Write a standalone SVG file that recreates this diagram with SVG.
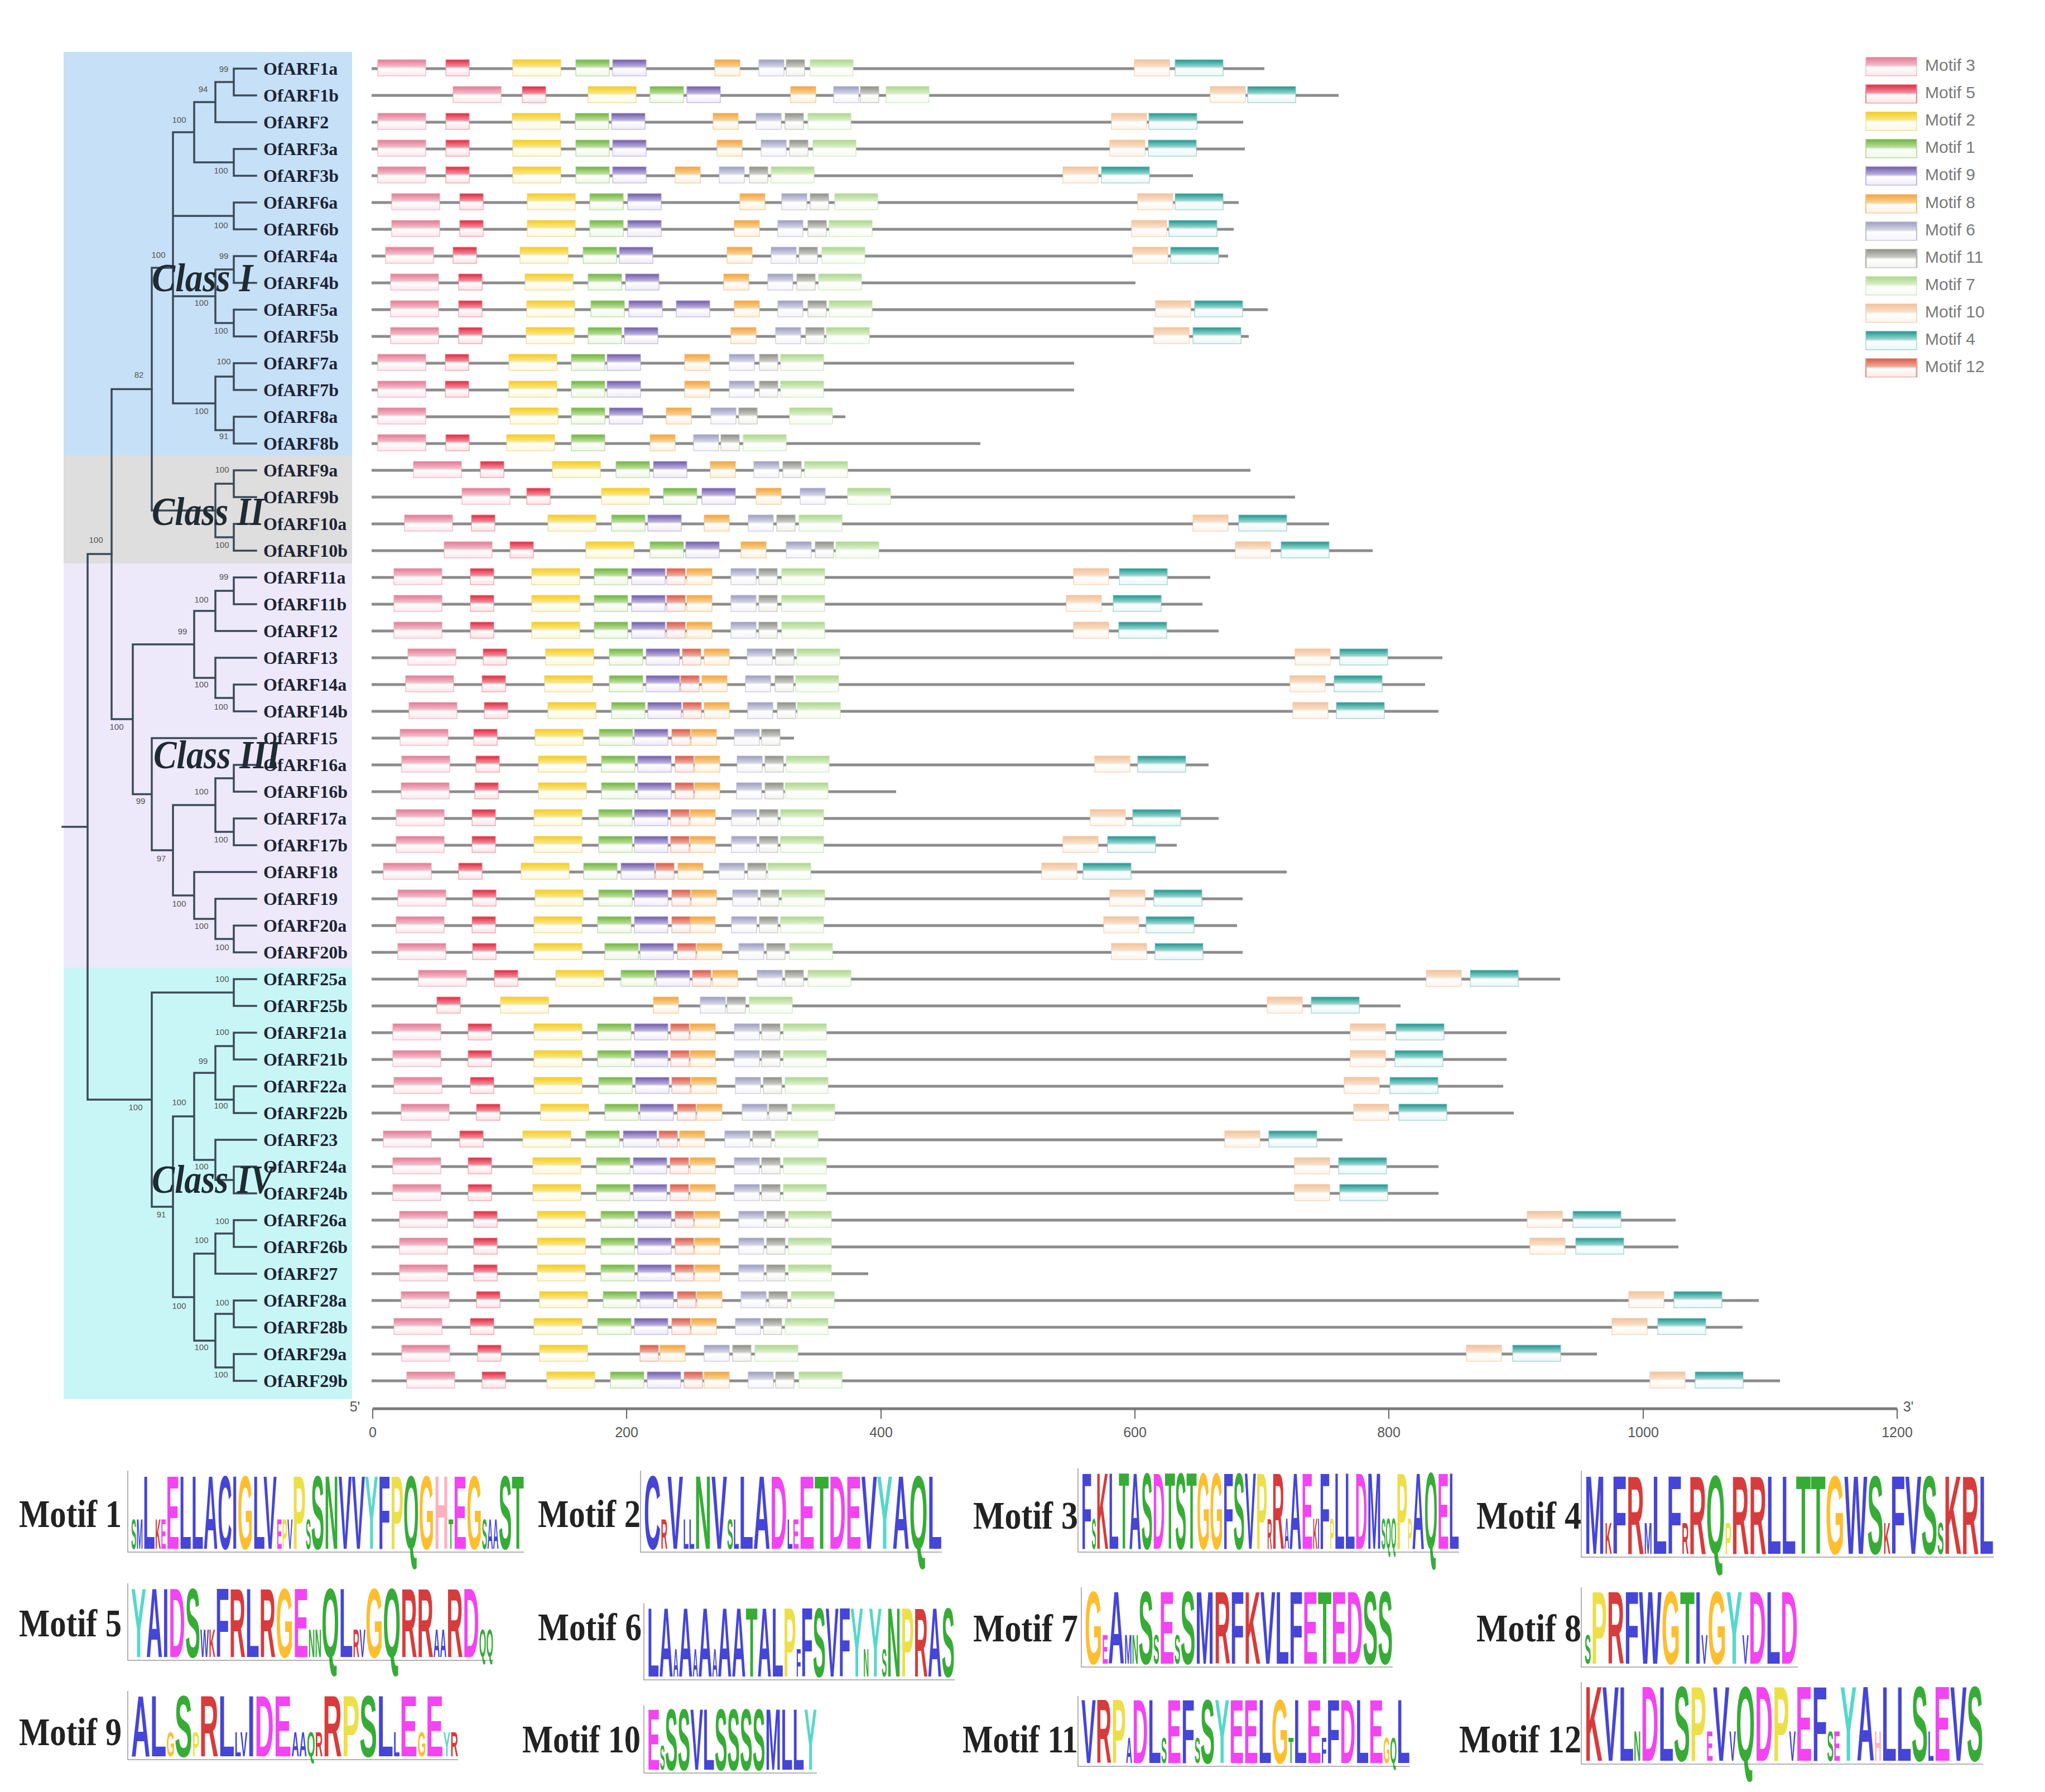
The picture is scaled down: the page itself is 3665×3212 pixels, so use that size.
<svg xmlns="http://www.w3.org/2000/svg" xmlns:xlink="http://www.w3.org/1999/xlink" width="3665" height="3212" viewBox="0 0 3665 3212">
<style>
.gl{stroke:#8c8c8c;stroke-width:5}
.tr{stroke:#3b4a58;stroke-width:3.5;fill:none;stroke-linecap:square}
.lf{font-family:"Liberation Serif",serif;font-weight:bold;font-size:32px;fill:#1e2433}
.bs{font-family:"Liberation Sans",sans-serif;font-size:15px;fill:#555;text-anchor:middle}
.cl{font-family:"Liberation Serif",serif;font-style:italic;font-weight:bold;font-size:72px;fill:#1f2a33}
.lg{font-family:"Liberation Sans",sans-serif;font-size:30px;fill:#7a7a7a}
.ax{font-family:"Liberation Sans",sans-serif;font-size:25px;fill:#555;text-anchor:middle}
.ml{font-family:"Liberation Serif",serif;font-weight:bold;font-size:70px;fill:#222}
.lo{font-family:"Liberation Sans",sans-serif;font-weight:bold;font-size:40px}
.lgo{opacity:0.82}
.la{stroke:#999;stroke-width:1.5;fill:none}
.b{fill:#1d1dd0}.g{fill:#0a9a0a}.m{fill:#f01cf0}.r{fill:#d01010}.o{fill:#ffb000}.y{fill:#e8d820}.t{fill:#30d0c0}.p{fill:#ff9fb0}
.S{font-size:16px}.L{font-size:40px}
</style>
<defs>
<linearGradient id="g3" x1="0" y1="0" x2="0" y2="1"><stop offset="0" stop-color="#e27a96"/><stop offset="0.42" stop-color="#f4b9c8"/><stop offset="0.55" stop-color="#ffffff"/><stop offset="1" stop-color="#fce6ec"/></linearGradient>
<linearGradient id="g5" x1="0" y1="0" x2="0" y2="1"><stop offset="0" stop-color="#e0283f"/><stop offset="0.42" stop-color="#f38a98"/><stop offset="0.55" stop-color="#ffffff"/><stop offset="1" stop-color="#fde0e4"/></linearGradient>
<linearGradient id="g2" x1="0" y1="0" x2="0" y2="1"><stop offset="0" stop-color="#f6cd16"/><stop offset="0.42" stop-color="#f9e58a"/><stop offset="0.55" stop-color="#ffffff"/><stop offset="1" stop-color="#fff8d8"/></linearGradient>
<linearGradient id="g1" x1="0" y1="0" x2="0" y2="1"><stop offset="0" stop-color="#6fb43e"/><stop offset="0.42" stop-color="#b9dd98"/><stop offset="0.55" stop-color="#ffffff"/><stop offset="1" stop-color="#eef8e4"/></linearGradient>
<linearGradient id="g9" x1="0" y1="0" x2="0" y2="1"><stop offset="0" stop-color="#6f5aa8"/><stop offset="0.42" stop-color="#b9addb"/><stop offset="0.55" stop-color="#ffffff"/><stop offset="1" stop-color="#efeaf8"/></linearGradient>
<linearGradient id="g8" x1="0" y1="0" x2="0" y2="1"><stop offset="0" stop-color="#f3a43a"/><stop offset="0.42" stop-color="#f9cf92"/><stop offset="0.55" stop-color="#ffffff"/><stop offset="1" stop-color="#fff0dc"/></linearGradient>
<linearGradient id="g6" x1="0" y1="0" x2="0" y2="1"><stop offset="0" stop-color="#9c9cc0"/><stop offset="0.42" stop-color="#d2d2e4"/><stop offset="0.55" stop-color="#ffffff"/><stop offset="1" stop-color="#f4f4fa"/></linearGradient>
<linearGradient id="g11" x1="0" y1="0" x2="0" y2="1"><stop offset="0" stop-color="#8e8e88"/><stop offset="0.42" stop-color="#c9c9c3"/><stop offset="0.55" stop-color="#ffffff"/><stop offset="1" stop-color="#f2f2ee"/></linearGradient>
<linearGradient id="g7" x1="0" y1="0" x2="0" y2="1"><stop offset="0" stop-color="#acd68c"/><stop offset="0.42" stop-color="#d9eec8"/><stop offset="0.55" stop-color="#ffffff"/><stop offset="1" stop-color="#f5fbf0"/></linearGradient>
<linearGradient id="g10" x1="0" y1="0" x2="0" y2="1"><stop offset="0" stop-color="#f3c29a"/><stop offset="0.42" stop-color="#f9dfc8"/><stop offset="0.55" stop-color="#ffffff"/><stop offset="1" stop-color="#fdf3ea"/></linearGradient>
<linearGradient id="g4" x1="0" y1="0" x2="0" y2="1"><stop offset="0" stop-color="#1f958e"/><stop offset="0.42" stop-color="#92d3ce"/><stop offset="0.55" stop-color="#ffffff"/><stop offset="1" stop-color="#e8f7f6"/></linearGradient>
<linearGradient id="g12" x1="0" y1="0" x2="0" y2="1"><stop offset="0" stop-color="#dc5a48"/><stop offset="0.42" stop-color="#eda79c"/><stop offset="0.55" stop-color="#ffffff"/><stop offset="1" stop-color="#fbe8e4"/></linearGradient>
<rect id="m3" y="-16" width="86" height="29" fill="url(#g3)" stroke="#e8a5b5" stroke-width="1"/>
<rect id="m5" y="-16" width="42" height="29" fill="url(#g5)" stroke="#e88a96" stroke-width="1"/>
<rect id="m2" y="-16" width="86" height="29" fill="url(#g2)" stroke="#e8d27a" stroke-width="1"/>
<rect id="m1" y="-16" width="60" height="29" fill="url(#g1)" stroke="#a8d08a" stroke-width="1"/>
<rect id="m9" y="-16" width="60" height="29" fill="url(#g9)" stroke="#b0a6d4" stroke-width="1"/>
<rect id="m8" y="-16" width="45" height="29" fill="url(#g8)" stroke="#eebf80" stroke-width="1"/>
<rect id="m6" y="-16" width="45" height="29" fill="url(#g6)" stroke="#bcbcd2" stroke-width="1"/>
<rect id="m11" y="-16" width="33" height="29" fill="url(#g11)" stroke="#b8b8b2" stroke-width="1"/>
<rect id="m7" y="-16" width="77" height="29" fill="url(#g7)" stroke="#c5e3ae" stroke-width="1"/>
<rect id="m10" y="-16" width="63" height="29" fill="url(#g10)" stroke="#eecaa8" stroke-width="1"/>
<rect id="m4" y="-16" width="86" height="29" fill="url(#g4)" stroke="#86c6c2" stroke-width="1"/>
<rect id="m12" y="-16" width="33" height="29" fill="url(#g12)" stroke="#e0a090" stroke-width="1"/>
</defs>
<rect width="3665" height="3212" fill="#ffffff"/>
<g id="class-backgrounds">
<rect x="114" y="93" width="517" height="723" fill="#c6e0f8"/>
<rect x="114" y="816" width="517" height="194" fill="#dedede"/>
<rect x="114" y="1010" width="517" height="724" fill="#ede9fb"/>
<rect x="114" y="1734" width="517" height="774" fill="#c8f6f6"/>
</g>
<g id="connectors">
<path class="tr" d="M419,123H459M419,171H459M419,123V171M386,147H419M386,219H459M386,147V219M419,267H459M419,315H459M419,267V315M348,183H386M348,291H419M348,183V291M419,363H459M419,411H459M419,363V411M419,459H459M419,507H459M419,459V507M419,555H459M419,603H459M419,555V603M386,483H419M386,579H419M386,483V579M419,651H459M419,699H459M419,651V699M419,747H459M419,795H459M419,747V795M386,675H419M386,771H419M386,675V771M310,237H348M310,387H419M310,531H386M310,723H386M310,237V723"/>
<path class="tr" d="M419,843H459M419,891H459M419,843V891M419,939H459M419,987H459M419,939V987M386,867H419M386,963H419M386,867V963M272,480H310M272,915H386M272,480V915"/>
<path class="tr" d="M419,1035H459M419,1083H459M419,1035V1083M386,1059H419M386,1131H459M386,1059V1131M419,1227H459M419,1275H459M419,1227V1275M386,1179H459M386,1251H419M386,1179V1251M348,1095H386M348,1215H386M348,1095V1215M419,1371H459M419,1419H459M419,1371V1419M419,1467H459M419,1515H459M419,1467V1515M386,1395H419M386,1491H419M386,1395V1491M419,1659H459M419,1707H459M419,1659V1707M386,1611H459M386,1683H419M386,1611V1683M348,1563H459M348,1647H386M348,1563V1647M310,1443H386M310,1605H348M310,1443V1605M272,1323H459M272,1524H310M272,1323V1524M238,1155H348M238,1423.5H272M238,1155V1423.5M200,697.5H272M200,1289H238M200,697.5V1289"/>
<path class="tr" d="M419,1755H459M419,1803H459M419,1755V1803M419,1851H459M419,1899H459M419,1851V1899M419,1947H459M419,1995H459M419,1947V1995M386,1875H419M386,1971H419M386,1875V1971M419,2091H459M419,2139H459M419,2091V2139M386,2043H459M386,2115H419M386,2043V2115M348,1923H386M348,2079H386M348,1923V2079M419,2187H459M419,2235H459M419,2187V2235M386,2211H419M386,2283H459M386,2211V2283M419,2331H459M419,2379H459M419,2331V2379M419,2427H459M419,2475H459M419,2427V2475M386,2355H419M386,2451H419M386,2355V2451M348,2247H386M348,2403H386M348,2247V2403M310,2001H348M310,2325H348M310,2001V2325M272,1779H419M272,2163H310M272,1779V2163M157,993H200M157,1971H272M157,993V1971M112,1482H157"/>
</g>
<g id="bootstrap">
<text class="bs" x="401" y="129">99</text>
<text class="bs" x="364" y="165">94</text>
<text class="bs" x="321" y="220">100</text>
<text class="bs" x="396" y="311">100</text>
<text class="bs" x="396" y="409">100</text>
<text class="bs" x="284" y="462">100</text>
<text class="bs" x="401" y="464">99</text>
<text class="bs" x="361" y="548">100</text>
<text class="bs" x="396" y="598">100</text>
<text class="bs" x="401" y="653">100</text>
<text class="bs" x="249" y="677">82</text>
<text class="bs" x="361" y="742">100</text>
<text class="bs" x="401" y="787">91</text>
<text class="bs" x="398" y="847">100</text>
<text class="bs" x="398" y="982">100</text>
<text class="bs" x="172" y="973">100</text>
<text class="bs" x="401" y="1039">99</text>
<text class="bs" x="361" y="1080">100</text>
<text class="bs" x="327" y="1137">99</text>
<text class="bs" x="361" y="1232">100</text>
<text class="bs" x="396" y="1272">100</text>
<text class="bs" x="209" y="1308">100</text>
<text class="bs" x="361" y="1424">100</text>
<text class="bs" x="252" y="1441">99</text>
<text class="bs" x="396" y="1510">100</text>
<text class="bs" x="289" y="1544">97</text>
<text class="bs" x="321" y="1625">100</text>
<text class="bs" x="361" y="1665">100</text>
<text class="bs" x="398" y="1703">100</text>
<text class="bs" x="398" y="1760">100</text>
<text class="bs" x="243" y="1990">100</text>
<text class="bs" x="398" y="1855">100</text>
<text class="bs" x="364" y="1907">99</text>
<text class="bs" x="321" y="1981">100</text>
<text class="bs" x="396" y="1987">100</text>
<text class="bs" x="361" y="2096">100</text>
<text class="bs" x="289" y="2182">91</text>
<text class="bs" x="398" y="2194">100</text>
<text class="bs" x="361" y="2228">100</text>
<text class="bs" x="321" y="2346">100</text>
<text class="bs" x="398" y="2340">100</text>
<text class="bs" x="361" y="2420">100</text>
<text class="bs" x="396" y="2469">100</text>
</g>
<g id="genes">
<g id="OfARF1a" transform="translate(0,123)"><text class="lf" x="472" y="11">OfARF1a</text><line class="gl" x1="666" x2="2266"/><use href="#m3" x="677"/><use href="#m5" x="799"/><use href="#m2" x="919"/><use href="#m1" x="1032"/><use href="#m9" x="1098"/><use href="#m8" x="1281"/><use href="#m6" x="1360"/><use href="#m11" x="1409"/><use href="#m7" x="1452"/><use href="#m10" x="2033"/><use href="#m4" x="2106"/></g>
<g id="OfARF1b" transform="translate(0,171)"><text class="lf" x="472" y="11">OfARF1b</text><line class="gl" x1="666" x2="2399"/><use href="#m3" x="812"/><use href="#m5" x="936"/><use href="#m2" x="1054"/><use href="#m1" x="1165"/><use href="#m9" x="1231"/><use href="#m8" x="1417"/><use href="#m6" x="1494"/><use href="#m11" x="1542"/><use href="#m7" x="1588"/><use href="#m10" x="2169"/><use href="#m4" x="2236"/></g>
<g id="OfARF2" transform="translate(0,219)"><text class="lf" x="472" y="11">OfARF2</text><line class="gl" x1="666" x2="2228"/><use href="#m3" x="677"/><use href="#m5" x="799"/><use href="#m2" x="918"/><use href="#m1" x="1031"/><use href="#m9" x="1096"/><use href="#m8" x="1278"/><use href="#m6" x="1355"/><use href="#m11" x="1407"/><use href="#m7" x="1448"/><use href="#m10" x="1992"/><use href="#m4" x="2059"/></g>
<g id="OfARF3a" transform="translate(0,267)"><text class="lf" x="472" y="11">OfARF3a</text><line class="gl" x1="666" x2="2231"/><use href="#m3" x="677"/><use href="#m5" x="799"/><use href="#m2" x="919"/><use href="#m1" x="1032"/><use href="#m9" x="1098"/><use href="#m8" x="1285"/><use href="#m6" x="1364"/><use href="#m11" x="1415"/><use href="#m7" x="1457"/><use href="#m10" x="1989"/><use href="#m4" x="2058"/></g>
<g id="OfARF3b" transform="translate(0,315)"><text class="lf" x="472" y="11">OfARF3b</text><line class="gl" x1="666" x2="2138"/><use href="#m3" x="677"/><use href="#m5" x="799"/><use href="#m2" x="919"/><use href="#m1" x="1032"/><use href="#m9" x="1098"/><use href="#m8" x="1210"/><use href="#m6" x="1289"/><use href="#m11" x="1343"/><use href="#m7" x="1382"/><use href="#m10" x="1905"/><use href="#m4" x="1974"/></g>
<g id="OfARF6a" transform="translate(0,363)"><text class="lf" x="472" y="11">OfARF6a</text><line class="gl" x1="666" x2="2220"/><use href="#m3" x="702"/><use href="#m5" x="824"/><use href="#m2" x="945"/><use href="#m1" x="1057"/><use href="#m9" x="1125"/><use href="#m8" x="1326"/><use href="#m6" x="1401"/><use href="#m11" x="1452"/><use href="#m7" x="1496"/><use href="#m10" x="2039"/><use href="#m4" x="2106"/></g>
<g id="OfARF6b" transform="translate(0,411)"><text class="lf" x="472" y="11">OfARF6b</text><line class="gl" x1="666" x2="2211"/><use href="#m3" x="702"/><use href="#m5" x="824"/><use href="#m2" x="945"/><use href="#m1" x="1057"/><use href="#m9" x="1125"/><use href="#m8" x="1316"/><use href="#m6" x="1394"/><use href="#m11" x="1448"/><use href="#m7" x="1486"/><use href="#m10" x="2028"/><use href="#m4" x="2095"/></g>
<g id="OfARF4a" transform="translate(0,459)"><text class="lf" x="472" y="11">OfARF4a</text><line class="gl" x1="666" x2="2201"/><use href="#m3" x="691"/><use href="#m5" x="812"/><use href="#m2" x="932"/><use href="#m1" x="1045"/><use href="#m9" x="1110"/><use href="#m8" x="1303"/><use href="#m6" x="1382"/><use href="#m11" x="1432"/><use href="#m7" x="1473"/><use href="#m10" x="2030"/><use href="#m4" x="2098"/></g>
<g id="OfARF4b" transform="translate(0,507)"><text class="lf" x="472" y="11">OfARF4b</text><line class="gl" x1="666" x2="2035"/><use href="#m3" x="700"/><use href="#m5" x="822"/><use href="#m2" x="941"/><use href="#m1" x="1054"/><use href="#m9" x="1121"/><use href="#m8" x="1297"/><use href="#m6" x="1376"/><use href="#m11" x="1428"/><use href="#m7" x="1467"/></g>
<g id="OfARF5a" transform="translate(0,555)"><text class="lf" x="472" y="11">OfARF5a</text><line class="gl" x1="666" x2="2272"/><use href="#m3" x="700"/><use href="#m5" x="822"/><use href="#m2" x="944"/><use href="#m1" x="1059"/><use href="#m9" x="1127"/><use href="#m9" x="1212"/><use href="#m8" x="1316"/><use href="#m6" x="1394"/><use href="#m11" x="1448"/><use href="#m7" x="1486"/><use href="#m10" x="2071"/><use href="#m4" x="2141"/></g>
<g id="OfARF5b" transform="translate(0,603)"><text class="lf" x="472" y="11">OfARF5b</text><line class="gl" x1="666" x2="2238"/><use href="#m3" x="700"/><use href="#m5" x="822"/><use href="#m2" x="943"/><use href="#m1" x="1054"/><use href="#m9" x="1119"/><use href="#m8" x="1310"/><use href="#m6" x="1390"/><use href="#m11" x="1444"/><use href="#m7" x="1481"/><use href="#m10" x="2068"/><use href="#m4" x="2138"/></g>
<g id="OfARF7a" transform="translate(0,651)"><text class="lf" x="472" y="11">OfARF7a</text><line class="gl" x1="666" x2="1925"/><use href="#m3" x="677"/><use href="#m5" x="798"/><use href="#m2" x="912"/><use href="#m1" x="1024"/><use href="#m9" x="1088"/><use href="#m8" x="1227"/><use href="#m6" x="1307"/><use href="#m11" x="1361"/><use href="#m7" x="1399"/></g>
<g id="OfARF7b" transform="translate(0,699)"><text class="lf" x="472" y="11">OfARF7b</text><line class="gl" x1="666" x2="1925"/><use href="#m3" x="677"/><use href="#m5" x="798"/><use href="#m2" x="912"/><use href="#m1" x="1024"/><use href="#m9" x="1088"/><use href="#m8" x="1227"/><use href="#m6" x="1307"/><use href="#m11" x="1361"/><use href="#m7" x="1399"/></g>
<g id="OfARF8a" transform="translate(0,747)"><text class="lf" x="472" y="11">OfARF8a</text><line class="gl" x1="666" x2="1515"/><use href="#m3" x="677"/><use href="#m2" x="914"/><use href="#m1" x="1024"/><use href="#m9" x="1092"/><use href="#m8" x="1194"/><use href="#m6" x="1274"/><use href="#m11" x="1324"/><use href="#m7" x="1415"/></g>
<g id="OfARF8b" transform="translate(0,795)"><text class="lf" x="472" y="11">OfARF8b</text><line class="gl" x1="666" x2="1757"/><use href="#m3" x="677"/><use href="#m5" x="799"/><use href="#m2" x="908"/><use href="#m1" x="1024"/><use href="#m8" x="1165"/><use href="#m6" x="1243"/><use href="#m11" x="1292"/><use href="#m7" x="1332"/></g>
<g id="OfARF9a" transform="translate(0,843)"><text class="lf" x="472" y="11">OfARF9a</text><line class="gl" x1="666" x2="2241"/><use href="#m3" x="741"/><use href="#m5" x="861"/><use href="#m2" x="990"/><use href="#m1" x="1104"/><use href="#m9" x="1171"/><use href="#m8" x="1273"/><use href="#m6" x="1351"/><use href="#m11" x="1403"/><use href="#m7" x="1442"/></g>
<g id="OfARF9b" transform="translate(0,891)"><text class="lf" x="472" y="11">OfARF9b</text><line class="gl" x1="666" x2="2321"/><use href="#m3" x="828"/><use href="#m5" x="944"/><use href="#m2" x="1078"/><use href="#m1" x="1189"/><use href="#m9" x="1258"/><use href="#m8" x="1355"/><use href="#m6" x="1434"/><use href="#m7" x="1519"/></g>
<g id="OfARF10a" transform="translate(0,939)"><text class="lf" x="472" y="11">OfARF10a</text><line class="gl" x1="666" x2="2382"/><use href="#m3" x="725"/><use href="#m5" x="845"/><use href="#m2" x="982"/><use href="#m1" x="1096"/><use href="#m9" x="1161"/><use href="#m8" x="1262"/><use href="#m6" x="1341"/><use href="#m11" x="1392"/><use href="#m7" x="1432"/><use href="#m10" x="2138"/><use href="#m4" x="2220"/></g>
<g id="OfARF10b" transform="translate(0,987)"><text class="lf" x="472" y="11">OfARF10b</text><line class="gl" x1="666" x2="2460"/><use href="#m3" x="796"/><use href="#m5" x="914"/><use href="#m2" x="1050"/><use href="#m1" x="1165"/><use href="#m9" x="1229"/><use href="#m8" x="1328"/><use href="#m6" x="1409"/><use href="#m11" x="1461"/><use href="#m7" x="1498"/><use href="#m10" x="2214"/><use href="#m4" x="2296"/></g>
<g id="OfARF11a" transform="translate(0,1035)"><text class="lf" x="472" y="11">OfARF11a</text><line class="gl" x1="666" x2="2169"/><use href="#m3" x="706"/><use href="#m5" x="843"/><use href="#m2" x="953"/><use href="#m1" x="1065"/><use href="#m9" x="1132"/><use href="#m12" x="1195"/><use href="#m8" x="1231"/><use href="#m6" x="1310"/><use href="#m11" x="1360"/><use href="#m7" x="1401"/><use href="#m10" x="1924"/><use href="#m4" x="2006"/></g>
<g id="OfARF11b" transform="translate(0,1083)"><text class="lf" x="472" y="11">OfARF11b</text><line class="gl" x1="666" x2="2155"/><use href="#m3" x="706"/><use href="#m5" x="843"/><use href="#m2" x="953"/><use href="#m1" x="1065"/><use href="#m9" x="1132"/><use href="#m12" x="1195"/><use href="#m8" x="1231"/><use href="#m6" x="1310"/><use href="#m11" x="1360"/><use href="#m7" x="1401"/><use href="#m10" x="1911"/><use href="#m4" x="1995"/></g>
<g id="OfARF12" transform="translate(0,1131)"><text class="lf" x="472" y="11">OfARF12</text><line class="gl" x1="666" x2="2184"/><use href="#m3" x="706"/><use href="#m5" x="843"/><use href="#m2" x="953"/><use href="#m1" x="1065"/><use href="#m9" x="1132"/><use href="#m12" x="1195"/><use href="#m8" x="1231"/><use href="#m6" x="1310"/><use href="#m11" x="1360"/><use href="#m7" x="1401"/><use href="#m10" x="1924"/><use href="#m4" x="2005"/></g>
<g id="OfARF13" transform="translate(0,1179)"><text class="lf" x="472" y="11">OfARF13</text><line class="gl" x1="666" x2="2585"/><use href="#m3" x="731"/><use href="#m5" x="866"/><use href="#m2" x="978"/><use href="#m1" x="1092"/><use href="#m9" x="1158"/><use href="#m12" x="1223"/><use href="#m8" x="1262"/><use href="#m6" x="1339"/><use href="#m11" x="1390"/><use href="#m7" x="1428"/><use href="#m10" x="2321"/><use href="#m4" x="2401"/></g>
<g id="OfARF14a" transform="translate(0,1227)"><text class="lf" x="472" y="11">OfARF14a</text><line class="gl" x1="666" x2="2554"/><use href="#m3" x="727"/><use href="#m5" x="864"/><use href="#m2" x="976"/><use href="#m1" x="1092"/><use href="#m9" x="1158"/><use href="#m12" x="1220"/><use href="#m8" x="1258"/><use href="#m6" x="1336"/><use href="#m11" x="1389"/><use href="#m7" x="1426"/><use href="#m10" x="2312"/><use href="#m4" x="2391"/></g>
<g id="OfARF14b" transform="translate(0,1275)"><text class="lf" x="472" y="11">OfARF14b</text><line class="gl" x1="666" x2="2578"/><use href="#m3" x="733"/><use href="#m5" x="868"/><use href="#m2" x="982"/><use href="#m1" x="1096"/><use href="#m9" x="1161"/><use href="#m12" x="1224"/><use href="#m8" x="1262"/><use href="#m6" x="1340"/><use href="#m11" x="1393"/><use href="#m7" x="1429"/><use href="#m10" x="2317"/><use href="#m4" x="2395"/></g>
<g id="OfARF15" transform="translate(0,1323)"><text class="lf" x="472" y="11">OfARF15</text><line class="gl" x1="666" x2="1423"/><use href="#m3" x="717"/><use href="#m5" x="849"/><use href="#m2" x="959"/><use href="#m1" x="1074"/><use href="#m9" x="1137"/><use href="#m12" x="1204"/><use href="#m8" x="1239"/><use href="#m6" x="1316"/><use href="#m11" x="1365"/></g>
<g id="OfARF16a" transform="translate(0,1371)"><text class="lf" x="472" y="11">OfARF16a</text><line class="gl" x1="666" x2="2166"/><use href="#m3" x="720"/><use href="#m5" x="853"/><use href="#m2" x="965"/><use href="#m1" x="1078"/><use href="#m9" x="1143"/><use href="#m12" x="1210"/><use href="#m8" x="1245"/><use href="#m6" x="1321"/><use href="#m11" x="1371"/><use href="#m7" x="1409"/><use href="#m10" x="1962"/><use href="#m4" x="2039"/></g>
<g id="OfARF16b" transform="translate(0,1419)"><text class="lf" x="472" y="11">OfARF16b</text><line class="gl" x1="666" x2="1606"/><use href="#m3" x="719"/><use href="#m5" x="851"/><use href="#m2" x="965"/><use href="#m1" x="1078"/><use href="#m9" x="1143"/><use href="#m12" x="1210"/><use href="#m8" x="1245"/><use href="#m6" x="1320"/><use href="#m11" x="1371"/><use href="#m7" x="1407"/></g>
<g id="OfARF17a" transform="translate(0,1467)"><text class="lf" x="472" y="11">OfARF17a</text><line class="gl" x1="666" x2="2184"/><use href="#m3" x="710"/><use href="#m5" x="846"/><use href="#m2" x="957"/><use href="#m1" x="1073"/><use href="#m9" x="1137"/><use href="#m12" x="1202"/><use href="#m8" x="1237"/><use href="#m6" x="1311"/><use href="#m11" x="1361"/><use href="#m7" x="1399"/><use href="#m10" x="1954"/><use href="#m4" x="2030"/></g>
<g id="OfARF17b" transform="translate(0,1515)"><text class="lf" x="472" y="11">OfARF17b</text><line class="gl" x1="666" x2="2109"/><use href="#m3" x="710"/><use href="#m5" x="846"/><use href="#m2" x="957"/><use href="#m1" x="1073"/><use href="#m9" x="1137"/><use href="#m12" x="1202"/><use href="#m8" x="1237"/><use href="#m6" x="1311"/><use href="#m11" x="1361"/><use href="#m7" x="1399"/><use href="#m10" x="1905"/><use href="#m4" x="1985"/></g>
<g id="OfARF18" transform="translate(0,1563)"><text class="lf" x="472" y="11">OfARF18</text><line class="gl" x1="666" x2="2306"/><use href="#m3" x="687"/><use href="#m5" x="822"/><use href="#m2" x="934"/><use href="#m1" x="1046"/><use href="#m9" x="1113"/><use href="#m12" x="1175"/><use href="#m8" x="1215"/><use href="#m6" x="1289"/><use href="#m11" x="1340"/><use href="#m7" x="1376"/><use href="#m10" x="1867"/><use href="#m4" x="1941"/></g>
<g id="OfARF19" transform="translate(0,1611)"><text class="lf" x="472" y="11">OfARF19</text><line class="gl" x1="666" x2="2227"/><use href="#m3" x="713"/><use href="#m5" x="847"/><use href="#m2" x="959"/><use href="#m1" x="1073"/><use href="#m9" x="1137"/><use href="#m12" x="1204"/><use href="#m8" x="1239"/><use href="#m6" x="1313"/><use href="#m11" x="1363"/><use href="#m7" x="1401"/><use href="#m10" x="1989"/><use href="#m4" x="2068"/></g>
<g id="OfARF20a" transform="translate(0,1659)"><text class="lf" x="472" y="11">OfARF20a</text><line class="gl" x1="666" x2="2217"/><use href="#m3" x="710"/><use href="#m5" x="846"/><use href="#m2" x="957"/><use href="#m1" x="1071"/><use href="#m9" x="1137"/><use href="#m12" x="1204"/><use href="#m8" x="1237"/><use href="#m6" x="1311"/><use href="#m11" x="1361"/><use href="#m7" x="1399"/><use href="#m10" x="1978"/><use href="#m4" x="2054"/></g>
<g id="OfARF20b" transform="translate(0,1707)"><text class="lf" x="472" y="11">OfARF20b</text><line class="gl" x1="666" x2="2227"/><use href="#m3" x="713"/><use href="#m5" x="847"/><use href="#m2" x="957"/><use href="#m1" x="1084"/><use href="#m9" x="1147"/><use href="#m12" x="1214"/><use href="#m8" x="1249"/><use href="#m6" x="1324"/><use href="#m11" x="1374"/><use href="#m7" x="1415"/><use href="#m10" x="1992"/><use href="#m4" x="2070"/></g>
<g id="OfARF25a" transform="translate(0,1755)"><text class="lf" x="472" y="11">OfARF25a</text><line class="gl" x1="666" x2="2796"/><use href="#m3" x="750"/><use href="#m5" x="886"/><use href="#m2" x="996"/><use href="#m1" x="1113"/><use href="#m9" x="1176"/><use href="#m12" x="1241"/><use href="#m8" x="1277"/><use href="#m6" x="1357"/><use href="#m11" x="1407"/><use href="#m7" x="1448"/><use href="#m10" x="2556"/><use href="#m4" x="2635"/></g>
<g id="OfARF25b" transform="translate(0,1803)"><text class="lf" x="472" y="11">OfARF25b</text><line class="gl" x1="666" x2="2510"/><use href="#m5" x="783"/><use href="#m2" x="897"/><use href="#m8" x="1171"/><use href="#m6" x="1255"/><use href="#m11" x="1303"/><use href="#m7" x="1343"/><use href="#m10" x="2271"/><use href="#m4" x="2350"/></g>
<g id="OfARF21a" transform="translate(0,1851)"><text class="lf" x="472" y="11">OfARF21a</text><line class="gl" x1="666" x2="2700"/><use href="#m3" x="704"/><use href="#m5" x="839"/><use href="#m2" x="957"/><use href="#m1" x="1071"/><use href="#m9" x="1137"/><use href="#m12" x="1202"/><use href="#m8" x="1237"/><use href="#m6" x="1316"/><use href="#m11" x="1365"/><use href="#m7" x="1404"/><use href="#m10" x="2420"/><use href="#m4" x="2502"/></g>
<g id="OfARF21b" transform="translate(0,1899)"><text class="lf" x="472" y="11">OfARF21b</text><line class="gl" x1="666" x2="2700"/><use href="#m3" x="704"/><use href="#m5" x="839"/><use href="#m2" x="957"/><use href="#m1" x="1071"/><use href="#m9" x="1137"/><use href="#m12" x="1202"/><use href="#m8" x="1237"/><use href="#m6" x="1316"/><use href="#m11" x="1365"/><use href="#m7" x="1404"/><use href="#m10" x="2420"/><use href="#m4" x="2500"/></g>
<g id="OfARF22a" transform="translate(0,1947)"><text class="lf" x="472" y="11">OfARF22a</text><line class="gl" x1="666" x2="2694"/><use href="#m3" x="706"/><use href="#m5" x="843"/><use href="#m2" x="957"/><use href="#m1" x="1073"/><use href="#m9" x="1139"/><use href="#m12" x="1204"/><use href="#m8" x="1239"/><use href="#m6" x="1318"/><use href="#m11" x="1368"/><use href="#m7" x="1407"/><use href="#m10" x="2409"/><use href="#m4" x="2491"/></g>
<g id="OfARF22b" transform="translate(0,1995)"><text class="lf" x="472" y="11">OfARF22b</text><line class="gl" x1="666" x2="2713"/><use href="#m3" x="719"/><use href="#m5" x="854"/><use href="#m2" x="969"/><use href="#m1" x="1084"/><use href="#m9" x="1147"/><use href="#m12" x="1214"/><use href="#m8" x="1249"/><use href="#m6" x="1330"/><use href="#m11" x="1378"/><use href="#m7" x="1419"/><use href="#m10" x="2426"/><use href="#m4" x="2507"/></g>
<g id="OfARF23" transform="translate(0,2043)"><text class="lf" x="472" y="11">OfARF23</text><line class="gl" x1="666" x2="2406"/><use href="#m3" x="687"/><use href="#m5" x="824"/><use href="#m2" x="937"/><use href="#m1" x="1050"/><use href="#m9" x="1117"/><use href="#m12" x="1181"/><use href="#m8" x="1218"/><use href="#m6" x="1299"/><use href="#m11" x="1349"/><use href="#m7" x="1389"/><use href="#m10" x="2195"/><use href="#m4" x="2274"/></g>
<g id="OfARF24a" transform="translate(0,2091)"><text class="lf" x="472" y="11">OfARF24a</text><line class="gl" x1="666" x2="2578"/><use href="#m3" x="704"/><use href="#m5" x="839"/><use href="#m2" x="955"/><use href="#m1" x="1069"/><use href="#m9" x="1135"/><use href="#m12" x="1201"/><use href="#m8" x="1237"/><use href="#m6" x="1316"/><use href="#m11" x="1365"/><use href="#m7" x="1404"/><use href="#m10" x="2320"/><use href="#m4" x="2399"/></g>
<g id="OfARF24b" transform="translate(0,2139)"><text class="lf" x="472" y="11">OfARF24b</text><line class="gl" x1="666" x2="2578"/><use href="#m3" x="704"/><use href="#m5" x="839"/><use href="#m2" x="955"/><use href="#m1" x="1069"/><use href="#m9" x="1135"/><use href="#m12" x="1201"/><use href="#m8" x="1237"/><use href="#m6" x="1316"/><use href="#m11" x="1365"/><use href="#m7" x="1404"/><use href="#m10" x="2320"/><use href="#m4" x="2401"/></g>
<g id="OfARF26a" transform="translate(0,2187)"><text class="lf" x="472" y="11">OfARF26a</text><line class="gl" x1="666" x2="3003"/><use href="#m3" x="716"/><use href="#m5" x="849"/><use href="#m2" x="963"/><use href="#m1" x="1077"/><use href="#m9" x="1143"/><use href="#m12" x="1210"/><use href="#m8" x="1245"/><use href="#m6" x="1324"/><use href="#m11" x="1374"/><use href="#m7" x="1413"/><use href="#m10" x="2737"/><use href="#m4" x="2819"/></g>
<g id="OfARF26b" transform="translate(0,2235)"><text class="lf" x="472" y="11">OfARF26b</text><line class="gl" x1="666" x2="3008"/><use href="#m3" x="716"/><use href="#m5" x="849"/><use href="#m2" x="963"/><use href="#m1" x="1077"/><use href="#m9" x="1143"/><use href="#m12" x="1210"/><use href="#m8" x="1245"/><use href="#m6" x="1324"/><use href="#m11" x="1374"/><use href="#m7" x="1413"/><use href="#m10" x="2742"/><use href="#m4" x="2824"/></g>
<g id="OfARF27" transform="translate(0,2283)"><text class="lf" x="472" y="11">OfARF27</text><line class="gl" x1="666" x2="1556"/><use href="#m3" x="716"/><use href="#m5" x="849"/><use href="#m2" x="963"/><use href="#m1" x="1077"/><use href="#m9" x="1143"/><use href="#m12" x="1210"/><use href="#m8" x="1245"/><use href="#m6" x="1324"/><use href="#m11" x="1374"/><use href="#m7" x="1413"/></g>
<g id="OfARF28a" transform="translate(0,2331)"><text class="lf" x="472" y="11">OfARF28a</text><line class="gl" x1="666" x2="3152"/><use href="#m3" x="719"/><use href="#m5" x="854"/><use href="#m2" x="967"/><use href="#m1" x="1081"/><use href="#m9" x="1147"/><use href="#m12" x="1214"/><use href="#m8" x="1249"/><use href="#m6" x="1328"/><use href="#m11" x="1378"/><use href="#m7" x="1418"/><use href="#m10" x="2919"/><use href="#m4" x="3000"/></g>
<g id="OfARF28b" transform="translate(0,2379)"><text class="lf" x="472" y="11">OfARF28b</text><line class="gl" x1="666" x2="3123"/><use href="#m3" x="706"/><use href="#m5" x="843"/><use href="#m2" x="957"/><use href="#m1" x="1071"/><use href="#m9" x="1137"/><use href="#m12" x="1204"/><use href="#m8" x="1239"/><use href="#m6" x="1318"/><use href="#m11" x="1368"/><use href="#m7" x="1407"/><use href="#m10" x="2889"/><use href="#m4" x="2971"/></g>
<g id="OfARF29a" transform="translate(0,2427)"><text class="lf" x="472" y="11">OfARF29a</text><line class="gl" x1="666" x2="2862"/><use href="#m3" x="720"/><use href="#m5" x="856"/><use href="#m2" x="967"/><use href="#m12" x="1147"/><use href="#m8" x="1183"/><use href="#m6" x="1262"/><use href="#m11" x="1313"/><use href="#m7" x="1353"/><use href="#m10" x="2628"/><use href="#m4" x="2711"/></g>
<g id="OfARF29b" transform="translate(0,2475)"><text class="lf" x="472" y="11">OfARF29b</text><line class="gl" x1="666" x2="3190"/><use href="#m3" x="729"/><use href="#m5" x="864"/><use href="#m2" x="980"/><use href="#m1" x="1094"/><use href="#m9" x="1160"/><use href="#m12" x="1226"/><use href="#m8" x="1262"/><use href="#m6" x="1341"/><use href="#m11" x="1390"/><use href="#m7" x="1432"/><use href="#m10" x="2957"/><use href="#m4" x="3038"/></g>
</g>
<g id="class-labels">
<text class="cl" x="272" y="522" textLength="181" lengthAdjust="spacingAndGlyphs">Class I</text>
<text class="cl" x="272" y="941" textLength="201" lengthAdjust="spacingAndGlyphs">Class II</text>
<text class="cl" x="275" y="1377" textLength="227" lengthAdjust="spacingAndGlyphs">Class III</text>
<text class="cl" x="272" y="2138" textLength="218" lengthAdjust="spacingAndGlyphs">Class IV</text>
</g>
<g id="legend">
<use href="#m3" transform="translate(3344,121) scale(1.058,1.14)"/><text class="lg" x="3450" y="127">Motif 3</text>
<use href="#m5" transform="translate(3344,170) scale(2.167,1.14)"/><text class="lg" x="3450" y="176">Motif 5</text>
<use href="#m2" transform="translate(3344,219) scale(1.058,1.14)"/><text class="lg" x="3450" y="225">Motif 2</text>
<use href="#m1" transform="translate(3344,268) scale(1.517,1.14)"/><text class="lg" x="3450" y="274">Motif 1</text>
<use href="#m9" transform="translate(3344,317) scale(1.517,1.14)"/><text class="lg" x="3450" y="323">Motif 9</text>
<use href="#m8" transform="translate(3344,367) scale(2.022,1.14)"/><text class="lg" x="3450" y="373">Motif 8</text>
<use href="#m6" transform="translate(3344,416) scale(2.022,1.14)"/><text class="lg" x="3450" y="422">Motif 6</text>
<use href="#m11" transform="translate(3344,465) scale(2.758,1.14)"/><text class="lg" x="3450" y="471">Motif 11</text>
<use href="#m7" transform="translate(3344,514) scale(1.182,1.14)"/><text class="lg" x="3450" y="520">Motif 7</text>
<use href="#m10" transform="translate(3344,563) scale(1.444,1.14)"/><text class="lg" x="3450" y="569">Motif 10</text>
<use href="#m4" transform="translate(3344,612) scale(1.058,1.14)"/><text class="lg" x="3450" y="618">Motif 4</text>
<use href="#m12" transform="translate(3344,661) scale(2.758,1.14)"/><text class="lg" x="3450" y="667">Motif 12</text>
</g>
<g id="axis">
<line x1="668" y1="2525" x2="3400" y2="2525" stroke="#7a7a7a" stroke-width="5"/>
<path d="M668,2525V2543M1123,2525V2543M1579,2525V2543M2034,2525V2543M2489,2525V2543M2945,2525V2543M3400,2525V2543" stroke="#666" stroke-width="2"/>
<text class="ax" x="668" y="2576">0</text>
<text class="ax" x="1123" y="2576">200</text>
<text class="ax" x="1579" y="2576">400</text>
<text class="ax" x="2034" y="2576">600</text>
<text class="ax" x="2489" y="2576">800</text>
<text class="ax" x="2945" y="2576">1000</text>
<text class="ax" x="3400" y="2576">1200</text>
<text class="ax" x="636" y="2530">5'</text>
<text class="ax" x="3420" y="2530">3'</text>
</g>
<g id="motif-logos">
<text class="ml" x="34" y="2737" textLength="184" lengthAdjust="spacingAndGlyphs">Motif 1</text>
<text class="ml" x="964" y="2737" textLength="184" lengthAdjust="spacingAndGlyphs">Motif 2</text>
<text class="ml" x="1744" y="2740" textLength="188" lengthAdjust="spacingAndGlyphs">Motif 3</text>
<text class="ml" x="2646" y="2740" textLength="188" lengthAdjust="spacingAndGlyphs">Motif 4</text>
<text class="ml" x="34" y="2933" textLength="184" lengthAdjust="spacingAndGlyphs">Motif 5</text>
<text class="ml" x="964" y="2940" textLength="186" lengthAdjust="spacingAndGlyphs">Motif 6</text>
<text class="ml" x="1744" y="2942" textLength="188" lengthAdjust="spacingAndGlyphs">Motif 7</text>
<text class="ml" x="2646" y="2942" textLength="188" lengthAdjust="spacingAndGlyphs">Motif 8</text>
<text class="ml" x="34" y="3128" textLength="184" lengthAdjust="spacingAndGlyphs">Motif 9</text>
<text class="ml" x="936" y="3141" textLength="212" lengthAdjust="spacingAndGlyphs">Motif 10</text>
<text class="ml" x="1725" y="3141" textLength="207" lengthAdjust="spacingAndGlyphs">Motif 11</text>
<text class="ml" x="2615" y="3141" textLength="219" lengthAdjust="spacingAndGlyphs">Motif 12</text>
<path class="la" d="M229,2636V2782H939M1148,2636V2782H1688M1932,2632V2782H2615M2834,2636V2791H3573M229,2838V2976H884M1154,2874V3011H1711M1938,2845V2988H2496M2834,2845V2988H3222M229,3031V3154H821M1154,3057V3178H1464M1932,3040V3166H2527M2834,3015V3162H3554"/>
<g class="lgo">
<g transform="translate(235,2776) scale(1,4.7)"><text class="lo" textLength="704" lengthAdjust="spacingAndGlyphs"><tspan class="g S">S</tspan><tspan class="b S">M</tspan><tspan class="b L">L</tspan><tspan class="r S">K</tspan><tspan class="m S">E</tspan><tspan class="m L">E</tspan><tspan class="b L">LLACI</tspan><tspan class="o L">G</tspan><tspan class="b L">LV</tspan><tspan class="m S">E</tspan><tspan class="y S">P</tspan><tspan class="b S">V</tspan><tspan class="y L">P</tspan><tspan class="g S">S</tspan><tspan class="g L">SN</tspan><tspan class="b L">VV</tspan><tspan class="t L">Y</tspan><tspan class="b L">F</tspan><tspan class="y L">P</tspan><tspan class="g L">Q</tspan><tspan class="o L">G</tspan><tspan class="p L">H</tspan><tspan class="g S">T</tspan><tspan class="m L">E</tspan><tspan class="o L">G</tspan><tspan class="g S">S</tspan><tspan class="b S">AA</tspan><tspan class="g L">ST</tspan></text></g>
<g transform="translate(1154,2776) scale(1,4.7)"><text class="lo" textLength="534" lengthAdjust="spacingAndGlyphs"><tspan class="b L">C</tspan><tspan class="r S">R</tspan><tspan class="b L">V</tspan><tspan class="b S">LL</tspan><tspan class="g L">N</tspan><tspan class="b L">V</tspan><tspan class="g S">S</tspan><tspan class="b S">L</tspan><tspan class="b L">LA</tspan><tspan class="m L">D</tspan><tspan class="b S">L</tspan><tspan class="m S">E</tspan><tspan class="m L">E</tspan><tspan class="g L">T</tspan><tspan class="m L">DE</tspan><tspan class="b L">V</tspan><tspan class="t L">Y</tspan><tspan class="b L">A</tspan><tspan class="g L">Q</tspan><tspan class="b L">L</tspan></text></g>
<g transform="translate(1938,2776) scale(1,4.86)"><text class="lo" textLength="677" lengthAdjust="spacingAndGlyphs"><tspan class="b L">F</tspan><tspan class="g S">S</tspan><tspan class="r L">K</tspan><tspan class="b L">L</tspan><tspan class="g L">T</tspan><tspan class="b L">A</tspan><tspan class="g L">S</tspan><tspan class="m L">D</tspan><tspan class="g L">TST</tspan><tspan class="o L">GG</tspan><tspan class="b L">F</tspan><tspan class="g L">S</tspan><tspan class="b L">V</tspan><tspan class="y L">P</tspan><tspan class="r S">R</tspan><tspan class="r L">R</tspan><tspan class="b S">A</tspan><tspan class="b L">A</tspan><tspan class="m L">E</tspan><tspan class="r S">K</tspan><tspan class="b S">I</tspan><tspan class="b L">F</tspan><tspan class="y S">P</tspan><tspan class="b L">LL</tspan><tspan class="m L">D</tspan><tspan class="b L">M</tspan><tspan class="g S">SQQ</tspan><tspan class="y L">P</tspan><tspan class="y S">P</tspan><tspan class="b L">A</tspan><tspan class="g L">Q</tspan><tspan class="m L">E</tspan><tspan class="b L">L</tspan></text></g>
<g transform="translate(2840,2785) scale(1,5.0)"><text class="lo" textLength="733" lengthAdjust="spacingAndGlyphs"><tspan class="b L">M</tspan><tspan class="r S">K</tspan><tspan class="b L">F</tspan><tspan class="r L">R</tspan><tspan class="b S">M</tspan><tspan class="b L">LF</tspan><tspan class="r S">R</tspan><tspan class="r L">R</tspan><tspan class="g L">Q</tspan><tspan class="y S">P</tspan><tspan class="r L">RR</tspan><tspan class="b L">LL</tspan><tspan class="g L">TT</tspan><tspan class="o L">G</tspan><tspan class="b L">W</tspan><tspan class="g L">S</tspan><tspan class="r S">K</tspan><tspan class="b L">FV</tspan><tspan class="g L">S</tspan><tspan class="g S">S</tspan><tspan class="r L">KR</tspan><tspan class="b L">L</tspan></text></g>
<g transform="translate(235,2970) scale(1,4.4)"><text class="lo" textLength="649" lengthAdjust="spacingAndGlyphs"><tspan class="t L">Y</tspan><tspan class="b L">AI</tspan><tspan class="m L">D</tspan><tspan class="g L">S</tspan><tspan class="b S">W</tspan><tspan class="r S">K</tspan><tspan class="b L">F</tspan><tspan class="r L">R</tspan><tspan class="b L">L</tspan><tspan class="r L">R</tspan><tspan class="o L">G</tspan><tspan class="m L">E</tspan><tspan class="g S">NN</tspan><tspan class="g L">Q</tspan><tspan class="b L">L</tspan><tspan class="r S">R</tspan><tspan class="b S">V</tspan><tspan class="o L">G</tspan><tspan class="g L">Q</tspan><tspan class="r L">RR</tspan><tspan class="b S">AA</tspan><tspan class="r L">R</tspan><tspan class="m L">D</tspan><tspan class="g S">QQ</tspan></text></g>
<g transform="translate(1160,3005) scale(1,4.4)"><text class="lo" textLength="551" lengthAdjust="spacingAndGlyphs"><tspan class="b L">LA</tspan><tspan class="b S">A</tspan><tspan class="b L">A</tspan><tspan class="b S">A</tspan><tspan class="b L">A</tspan><tspan class="b S">A</tspan><tspan class="b L">AA</tspan><tspan class="g L">T</tspan><tspan class="b L">AL</tspan><tspan class="y L">P</tspan><tspan class="b S">F</tspan><tspan class="b L">F</tspan><tspan class="g L">S</tspan><tspan class="b L">VF</tspan><tspan class="t L">Y</tspan><tspan class="g S">N</tspan><tspan class="t L">Y</tspan><tspan class="g S">S</tspan><tspan class="g L">N</tspan><tspan class="y L">P</tspan><tspan class="r L">R</tspan><tspan class="b L">A</tspan><tspan class="g L">S</tspan></text></g>
<g transform="translate(1944,2982) scale(1,4.65)"><text class="lo" textLength="552" lengthAdjust="spacingAndGlyphs"><tspan class="o L">G</tspan><tspan class="m S">E</tspan><tspan class="b L">A</tspan><tspan class="b S">M</tspan><tspan class="g S">N</tspan><tspan class="g L">S</tspan><tspan class="g S">S</tspan><tspan class="m L">E</tspan><tspan class="g S">S</tspan><tspan class="g L">S</tspan><tspan class="b L">M</tspan><tspan class="r L">R</tspan><tspan class="b L">F</tspan><tspan class="r L">K</tspan><tspan class="b L">VLF</tspan><tspan class="m L">E</tspan><tspan class="g L">T</tspan><tspan class="m L">ED</tspan><tspan class="g L">SS</tspan></text></g>
<g transform="translate(2840,2982) scale(1,4.65)"><text class="lo" textLength="382" lengthAdjust="spacingAndGlyphs"><tspan class="g S">S</tspan><tspan class="y L">P</tspan><tspan class="r L">R</tspan><tspan class="b L">FW</tspan><tspan class="o L">G</tspan><tspan class="g L">T</tspan><tspan class="b L">I</tspan><tspan class="b S">V</tspan><tspan class="o L">G</tspan><tspan class="t L">Y</tspan><tspan class="b S">V</tspan><tspan class="m L">D</tspan><tspan class="b L">L</tspan><tspan class="m L">D</tspan></text></g>
<g transform="translate(235,3148) scale(1,3.9)"><text class="lo" textLength="586" lengthAdjust="spacingAndGlyphs"><tspan class="b L">AL</tspan><tspan class="o S">G</tspan><tspan class="g L">S</tspan><tspan class="y S">P</tspan><tspan class="r L">R</tspan><tspan class="b L">L</tspan><tspan class="b S">LV</tspan><tspan class="b L">I</tspan><tspan class="m L">DE</tspan><tspan class="b S">AA</tspan><tspan class="g S">Q</tspan><tspan class="r S">R</tspan><tspan class="r L">R</tspan><tspan class="y L">P</tspan><tspan class="g L">S</tspan><tspan class="b L">L</tspan><tspan class="b S">L</tspan><tspan class="m L">E</tspan><tspan class="o S">G</tspan><tspan class="m L">E</tspan><tspan class="t S">Y</tspan><tspan class="r S">R</tspan></text></g>
<g transform="translate(1160,3172) scale(1,3.9)"><text class="lo" textLength="304" lengthAdjust="spacingAndGlyphs"><tspan class="m L">E</tspan><tspan class="g S">S</tspan><tspan class="g L">SS</tspan><tspan class="b L">VL</tspan><tspan class="g L">SSSS</tspan><tspan class="b L">MLL</tspan><tspan class="t L">Y</tspan></text></g>
<g transform="translate(1938,3160) scale(1,4.06)"><text class="lo" textLength="589" lengthAdjust="spacingAndGlyphs"><tspan class="b L">V</tspan><tspan class="r L">R</tspan><tspan class="y L">P</tspan><tspan class="b S">A</tspan><tspan class="m L">D</tspan><tspan class="b L">L</tspan><tspan class="g S">S</tspan><tspan class="m L">E</tspan><tspan class="b L">F</tspan><tspan class="g S">S</tspan><tspan class="g L">S</tspan><tspan class="t L">Y</tspan><tspan class="m L">EE</tspan><tspan class="b L">L</tspan><tspan class="o L">G</tspan><tspan class="g S">T</tspan><tspan class="b L">L</tspan><tspan class="m L">E</tspan><tspan class="b S">F</tspan><tspan class="b L">F</tspan><tspan class="m L">D</tspan><tspan class="b L">L</tspan><tspan class="m L">E</tspan><tspan class="o S">G</tspan><tspan class="g S">Q</tspan><tspan class="b L">L</tspan></text></g>
<g transform="translate(2840,3156) scale(1,4.8)"><text class="lo" textLength="714" lengthAdjust="spacingAndGlyphs"><tspan class="r L">K</tspan><tspan class="b L">VL</tspan><tspan class="g S">N</tspan><tspan class="m L">D</tspan><tspan class="b L">L</tspan><tspan class="g L">S</tspan><tspan class="y L">P</tspan><tspan class="m S">E</tspan><tspan class="b L">V</tspan><tspan class="b S">V</tspan><tspan class="g L">Q</tspan><tspan class="m L">D</tspan><tspan class="y L">P</tspan><tspan class="b S">V</tspan><tspan class="m L">E</tspan><tspan class="b L">F</tspan><tspan class="g S">S</tspan><tspan class="m S">E</tspan><tspan class="t L">Y</tspan><tspan class="b L">A</tspan><tspan class="p S">H</tspan><tspan class="b L">LL</tspan><tspan class="g L">S</tspan><tspan class="b S">L</tspan><tspan class="m L">E</tspan><tspan class="b L">V</tspan><tspan class="g L">S</tspan></text></g>
</g>
</g>
</svg>
